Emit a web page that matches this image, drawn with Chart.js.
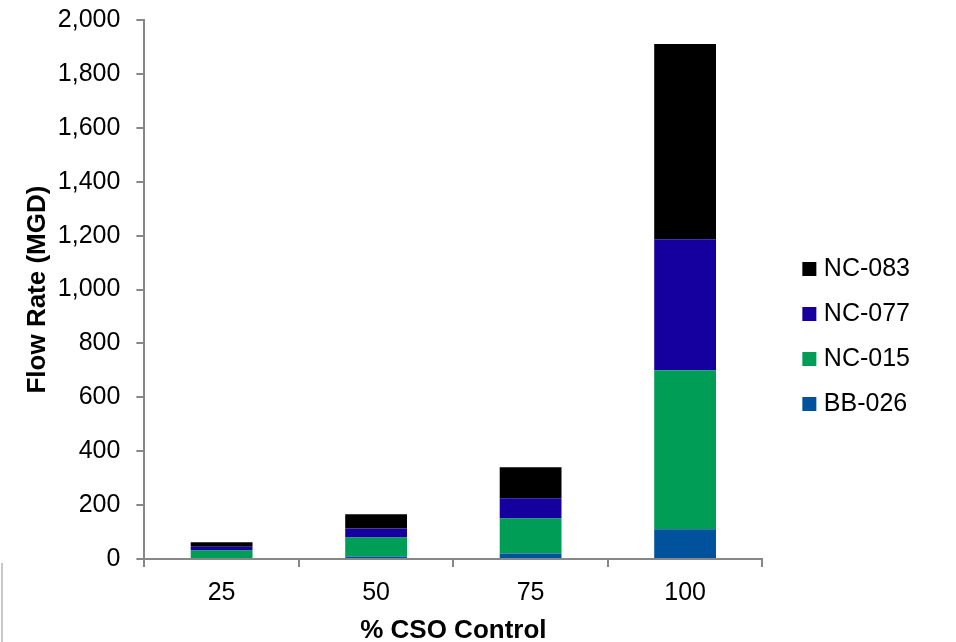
<!DOCTYPE html>
<html>
<head>
<meta charset="utf-8">
<script src="https://cdn.jsdelivr.net/npm/chart.js@4/dist/chart.umd.min.js"></script>
<style>
  html, body { margin: 0; padding: 0; background: #fff; }
  #wrap { position: relative; width: 956px; height: 642px; }
  #edge { position: absolute; left: 1px; top: 563px; width: 0; height: 79px; border-left: 2px solid #c8c8c8; }
</style>
</head>
<body>
<div id="wrap">
  <canvas id="myChart" width="956" height="642"></canvas>
  <div id="edge"></div>
</div>
<script>
// categories and series (MGD)
let controlLevels = ['25', '50', '75', '100'];
let bb026 = [4, 10, 21, 111];
let nc015 = [28, 70, 130, 590];
let nc077 = [14, 34, 75, 486];
let nc083 = [17, 52, 115, 724];
let yTicks = [0, 200, 400, 600, 800, 1000, 1200, 1400, 1600, 1800, 2000];

let axisGray = '#878787';
let font = 'Liberation Sans, Arial, sans-serif';

let ctx = document.getElementById('myChart').getContext('2d');

let chart = new Chart(ctx, {
  type: 'bar',
  data: {
    labels: controlLevels,
    datasets: [
      { label: 'BB-026', data: bb026, backgroundColor: '#00529c' },
      { label: 'NC-015', data: nc015, backgroundColor: '#009d57' },
      { label: 'NC-077', data: nc077, backgroundColor: '#15009f' },
      { label: 'NC-083', data: nc083, backgroundColor: '#000000' }
    ]
  },
  options: {
    responsive: false,
    animation: false,
    layout: { padding: { top: 20, right: 36, bottom: 0, left: 20 } },
    datasets: { bar: { categoryPercentage: 1, barPercentage: 0.4 } },
    plugins: {
      tooltip: { enabled: false },
      legend: {
        position: 'right',
        reverse: true,
        // empty title, only pushes the items down a little
        title: { display: true, text: '', padding: { top: 0, bottom: 10 }, font: { size: 1 } },
        labels: {
          usePointStyle: true,
          pointStyle: 'rect',
          boxWidth: 4,
          boxHeight: 14,
          padding: 20,
          color: '#000',
          font: { family: font, size: 25 }
        }
      }
    },
    scales: {
      x: {
        stacked: true,
        grid: { display: true, drawOnChartArea: false, tickLength: 8, color: axisGray, lineWidth: 2 },
        border: { display: true, color: axisGray, width: 2 },
        ticks: { color: '#000', padding: 13.5, font: { family: font, size: 25, lineHeight: 1 } },
        title: {
          display: true,
          text: '% CSO Control',
          color: '#000',
          padding: { top: 0, bottom: 0 },
          font: { family: font, size: 26, weight: 'bold', lineHeight: 0.88 }
        }
      },
      y: {
        stacked: true,
        min: 0,
        max: 2000,
        afterBuildTicks: (axis) => { axis.ticks = yTicks.map(v => ({ value: v })); },
        grid: { display: true, drawOnChartArea: false, tickLength: 8, color: axisGray, lineWidth: 2 },
        border: { display: true, color: axisGray, width: 2 },
        ticks: { color: '#000', padding: 16, font: { family: font, size: 25, lineHeight: 0.3 } },
        title: {
          display: true,
          text: 'Flow Rate (MGD)',
          color: '#000',
          padding: { top: 14, bottom: 0 },
          font: { family: font, size: 26, weight: 'bold', lineHeight: 0.3 }
        }
      },
      // empty axis on the right, keeps a gap before the legend
      gap: {
        type: 'linear',
        position: 'right',
        display: true,
        ticks: { display: false },
        grid: { display: false },
        border: { display: false },
        afterFit: (scale) => { scale.width = 25; }
      }
    }
  }
});
</script>
</body>
</html>
